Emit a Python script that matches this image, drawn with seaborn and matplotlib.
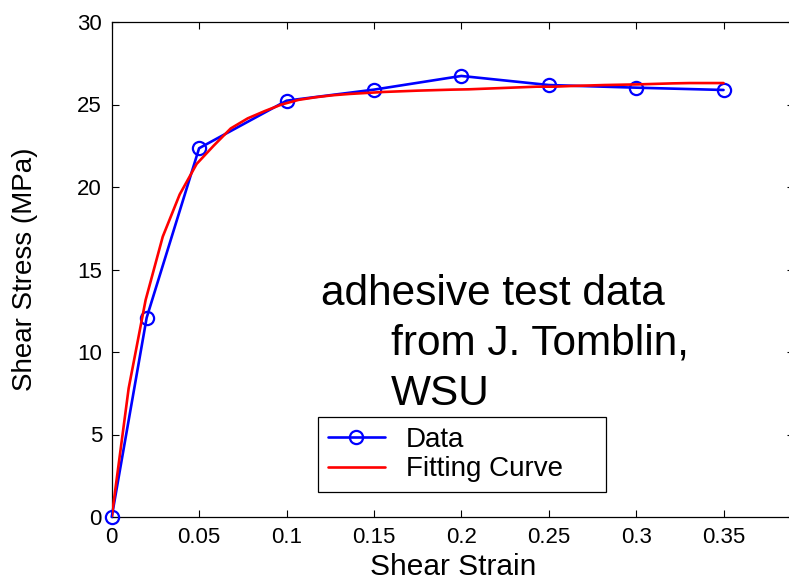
import matplotlib
matplotlib.use("Agg")
import matplotlib.pyplot as plt
import seaborn as sns
import pandas as pd

# ---- data ----
strain_data = [0.0, 0.02, 0.05, 0.10, 0.15, 0.20, 0.25, 0.30, 0.35]
stress_data = [0.0, 12.08, 22.35, 25.23, 25.90, 26.73, 26.18, 26.02, 25.88]

strain_fit = [0.0, 0.0097, 0.0194, 0.0292, 0.0389, 0.0486, 0.0583, 0.0681, 0.0778,
              0.0875, 0.0972, 0.1069, 0.1167, 0.1264, 0.1361, 0.1458, 0.1556, 0.1653,
              0.1750, 0.1847, 0.1944, 0.2042, 0.2139, 0.2236, 0.2333, 0.2431, 0.2528,
              0.2625, 0.2722, 0.2819, 0.2917, 0.3014, 0.3111, 0.3208, 0.3306, 0.3403,
              0.3500]
stress_fit = [0.0, 7.80, 13.15, 16.99, 19.55, 21.40, 22.50, 23.55, 24.16,
              24.60, 25.00, 25.28, 25.44, 25.56, 25.64, 25.70, 25.76, 25.80,
              25.84, 25.87, 25.90, 25.92, 25.96, 26.00, 26.04, 26.08, 26.08,
              26.12, 26.15, 26.18, 26.20, 26.22, 26.25, 26.28, 26.30, 26.30,
              26.30]

x_ticks = [0, 0.05, 0.1, 0.15, 0.2, 0.25, 0.3, 0.35]
x_tick_labels = ["0", "0.05", "0.1", "0.15", "0.2", "0.25", "0.3", "0.35"]
y_ticks = [0, 5, 10, 15, 20, 25, 30]
y_tick_labels = ["0", "5", "10", "15", "20", "25", "30"]

annotation_lines = ["adhesive test data", "from J. Tomblin,", "WSU"]

df_data = pd.DataFrame({"strain": strain_data, "stress": stress_data})
df_fit = pd.DataFrame({"strain": strain_fit, "stress": stress_fit})

# ---- style ----
sns.set_style("ticks")
plt.rcParams["font.family"] = ["Liberation Sans", "DejaVu Sans"]
plt.rcParams["text.color"] = "black"
plt.rcParams["axes.labelcolor"] = "black"
plt.rcParams["xtick.color"] = "black"
plt.rcParams["ytick.color"] = "black"

W, H = 789, 583
fig = plt.figure(figsize=(W / 100, H / 100), dpi=100)
ax = fig.add_axes([111.7 / W, (H - 517) / H, (794 - 111.7) / W, (517 - 22) / H])

sns.lineplot(data=df_data, x="strain", y="stress", ax=ax, color="#0000ff",
             linewidth=1.9, marker="o", markersize=9.5, markerfacecolor="none",
             markeredgecolor="#0000ff", markeredgewidth=1.6,
             sort=False, estimator=None, label="Data", zorder=3, clip_on=False)
sns.lineplot(data=df_fit, x="strain", y="stress", ax=ax, color="#ff0000",
             linewidth=1.9, sort=False, estimator=None, label="Fitting Curve",
             zorder=4)

ax.set_xlim(0, 0.3903)
ax.set_ylim(0, 30)
ax.set_xticks(x_ticks)
ax.set_xticklabels(x_tick_labels)
ax.set_yticks(y_ticks)
ax.set_yticklabels(y_tick_labels)

for s in ax.spines.values():
    s.set_visible(True)
    s.set_linewidth(0.9)
    s.set_color("black")

ax.tick_params(axis="both", which="both", direction="in", length=5, width=0.8,
               top=True, right=True, labelsize=16, pad=7, colors="black")

ax.set_xlabel("Shear Strain", fontsize=21.5, labelpad=4)
ax.set_ylabel("Shear Stress (MPa)", fontsize=20, labelpad=28)

# annotation text
ax.text(0.1197, 12.85, annotation_lines[0], fontsize=30.5, ha="left", va="baseline")
ax.text(0.1597, 9.82, annotation_lines[1], fontsize=30.5, ha="left", va="baseline")
ax.text(0.1597, 6.79, annotation_lines[2], fontsize=30.5, ha="left", va="baseline")

leg = ax.legend(loc="lower left",
                bbox_to_anchor=(318 / W, (H - 492) / H, 288 / W, 73 / H),
                bbox_transform=fig.transFigure, borderaxespad=0, mode="expand",
                fontsize=20, frameon=True, fancybox=False, framealpha=1,
                edgecolor="black", handlelength=2.05, handletextpad=0.75,
                borderpad=0.35, labelspacing=0.12)
leg.get_frame().set_linewidth(0.9)

fig.savefig("out.png", dpi=100)
